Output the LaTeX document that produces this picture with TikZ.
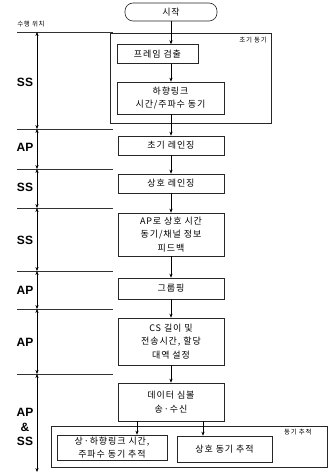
\documentclass[tikz,border=0pt]{standalone}
\usepackage{fontspec}
\setmainfont{Noto Sans CJK KR}[LetterSpace=10]
\newfontfamily\latinsans{Liberation Sans}
\usetikzlibrary{arrows.meta}
\begin{document}
\begin{tikzpicture}[x=1pt,y=-1pt,
  box/.style={draw=black!85, line width=0.6pt, align=center, inner sep=0pt,
    font=\fontsize{9}{13.5}\selectfont},
  arr/.style={-{Stealth[length=4pt,width=3.2pt]}, line width=0.5pt},
  dbl/.style={{Stealth[length=4pt,width=3.2pt]}-{Stealth[length=4pt,width=3.2pt]}, line width=0.6pt},
  sep/.style={line width=0.6pt, black!80},
  role/.style={font=\latinsans\bfseries\fontsize{12}{14.5}\selectfont, align=center, inner sep=0pt},
  tag/.style={font=\fontsize{6.5}{8}\selectfont, inner sep=0pt}]
\useasboundingbox (0,0) rectangle (329,476);

% start
\node[draw=black!85, line width=0.6pt, rounded corners=8pt, minimum width=92pt, minimum height=18pt,
  inner sep=0pt, font=\fontsize{9}{11}\selectfont] (start) at (171,12) {시작};
\node[tag] (where) at (31,24) {수행 위치};

% initial sync group
\node[draw=black!85, line width=0.7pt, minimum width=161pt, minimum height=90pt, inner sep=0pt] (initsync) at (190.5,78) {};
\node[tag, anchor=north east] (initlbl) at (267,37) {초기 동기};

\node[box, minimum width=81pt, minimum height=19pt] (frame) at (157.5,54) {프레임 검출};
\node[box, minimum width=107pt, minimum height=32pt] (down) at (170.5,98) {하향링크\\시간/주파수 동기};

% main column
\node[box, minimum width=106pt, minimum height=19pt] (iranging) at (171,145.5) {초기 레인징};
\node[box, minimum width=106pt, minimum height=19pt] (mranging) at (171,183.5) {상호 레인징};
\node[box, minimum width=106pt, minimum height=43pt] (feedback) at (171,234.5) {AP로 상호 시간\\동기/채널 정보\\피드백};
\node[box, minimum width=106pt, minimum height=21pt] (group) at (171,288.5) {그룹핑};
\node[box, minimum width=106pt, minimum height=47pt] (cs) at (171,341.5) {CS 길이 및\\전송시간, 할당\\대역 설정};
\node[box, minimum width=106pt, minimum height=38pt] (data) at (171,402) {데이터 심볼\\송·수신};

% sync tracking group
\node[draw=black!85, line width=0.7pt, minimum width=276pt, minimum height=41pt, inner sep=0pt] (track) at (189,446.5) {};
\node[tag, anchor=north west] (tracklbl) at (284,428.5) {동기 추적};
\node[box, minimum width=110pt, minimum height=25pt] (ultrack) at (112,447.5) {상·하향링크 시간,\\주파수 동기 추적};
\node[box, minimum width=95pt, minimum height=26pt] (mtrack) at (224.5,449) {상호 동기 추적};

% flow arrows
\draw[arr] (start.south) -- (start.south |- frame.north);
\draw[arr] (start.south |- frame.south) -- (start.south |- down.north);
\draw[arr] (start.south |- down.south) -- (iranging.north);
\draw[arr] (iranging) -- (mranging);
\draw[arr] (mranging) -- (feedback);
\draw[arr] (feedback) -- (group);
\draw[arr] (group) -- (cs);
\draw[arr] (cs) -- (data);
\draw[arr] ([xshift=-34pt]data.south) -- ([xshift=-34pt]data.south |- ultrack.north);
\draw[arr] ([xshift=32pt]data.south) -- ([xshift=32pt]data.south |- mtrack.north);

% left axis: separators
\foreach \n/\y in {0/32,1/129,2/169,3/208,4/271,5/309,6/374} {
  \coordinate (l\n) at (17,\y);
  \coordinate (r\n) at (113,\y);
  \coordinate (a\n) at (37,\y);
  \draw[sep] (l\n) -- (r\n);
}
\coordinate (a7) at (37,472);
\foreach \i/\j in {0/1,1/2,2/3,3/4,4/5,5/6,6/7} {
  \draw[dbl] (a\i) -- (a\j);
}

% role labels
\node[role] (r1) at (25,82) {SS};
\node[role] (r2) at (25,147) {AP};
\node[role] (r3) at (25,187) {SS};
\node[role] (r4) at (25,240) {SS};
\node[role] (r5) at (25,290) {AP};
\node[role] (r6) at (25,342) {AP};
\node[role] (r7) at (25,427) {AP\\\&\\SS};
\end{tikzpicture}
\end{document}
